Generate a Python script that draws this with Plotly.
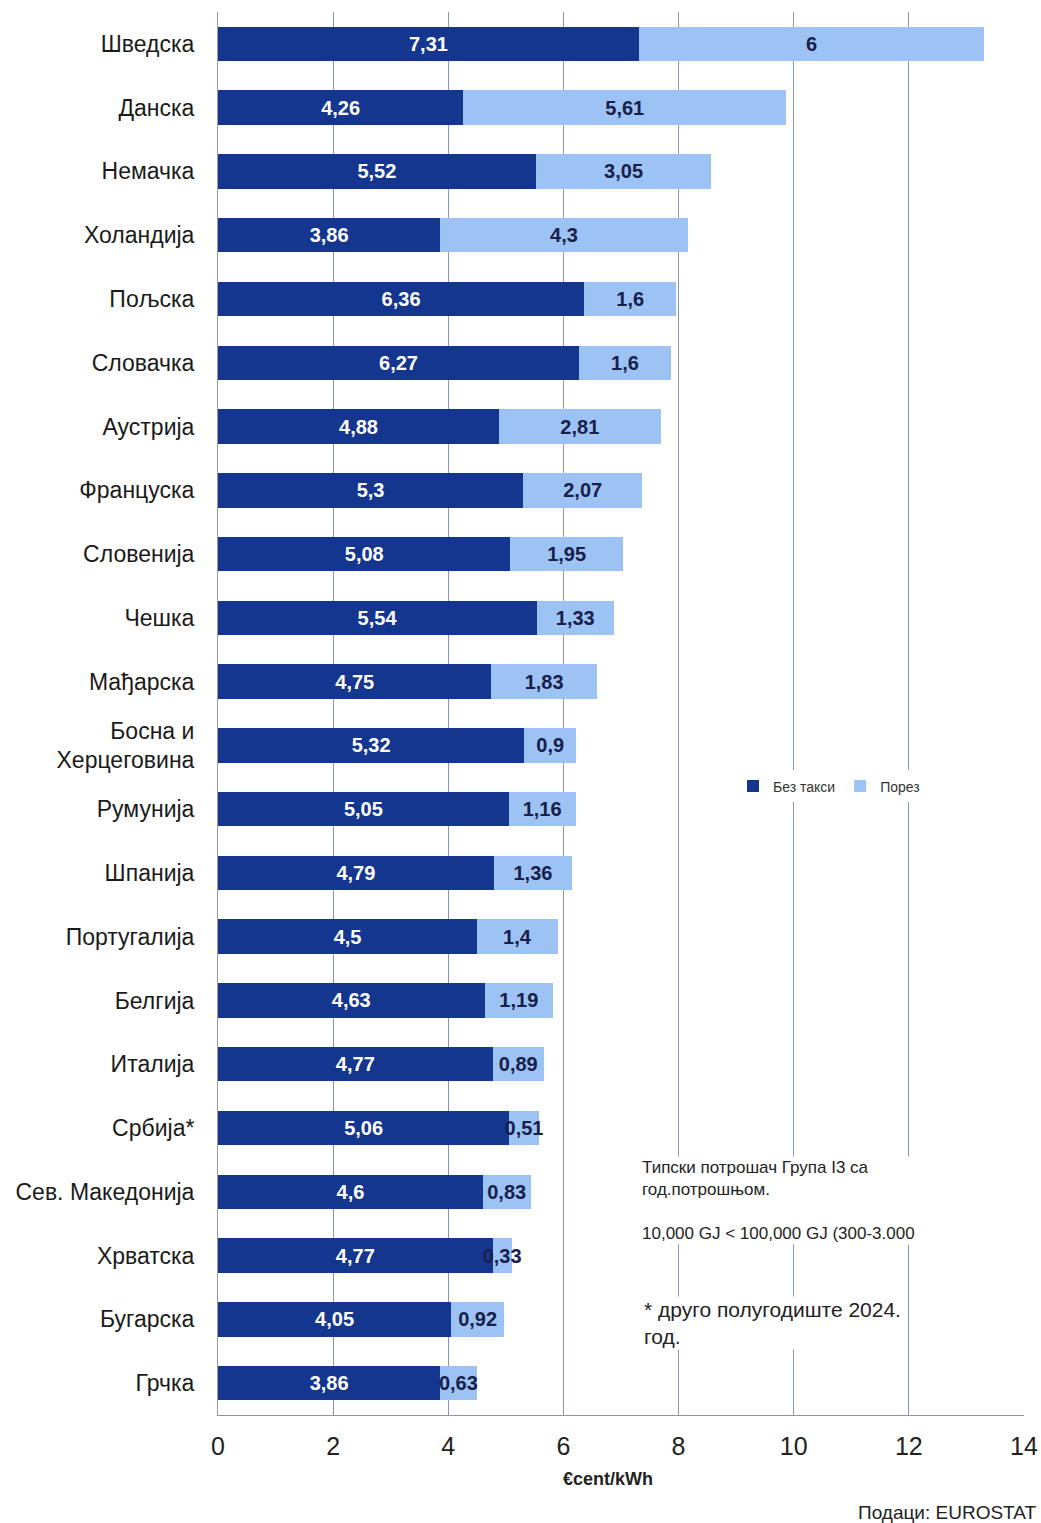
import plotly.graph_objects as go

countries = ["Шведска", "Данска", "Немачка", "Холандија", "Пољска", "Словачка", "Аустрија",
             "Француска", "Словенија", "Чешка", "Мађарска", "Босна и<br>Херцеговина", "Румунија",
             "Шпанија", "Португалија", "Белгија", "Италија", "Србија*", "Сев. Македонија",
             "Хрватска", "Бугарска", "Грчка"]
bez_taksi = [7.31, 4.26, 5.52, 3.86, 6.36, 6.27, 4.88, 5.3, 5.08, 5.54, 4.75, 5.32, 5.05,
             4.79, 4.5, 4.63, 4.77, 5.06, 4.6, 4.77, 4.05, 3.86]
porez = [6, 5.61, 3.05, 4.3, 1.6, 1.6, 2.81, 2.07, 1.95, 1.33, 1.83, 0.9, 1.16,
         1.36, 1.4, 1.19, 0.89, 0.51, 0.83, 0.33, 0.92, 0.63]
x_ticks = [0, 2, 4, 6, 8, 10, 12, 14]

def fmt(v):
    return ("%g" % v).replace(".", ",")

DARK = "#15368f"
LIGHT = "#9dc3f4"
FONT = "Liberation Sans, Arial, sans-serif"

fig = go.Figure()
fig.add_trace(go.Bar(
    y=countries, x=bez_taksi, orientation="h", name="Без такси",
    marker=dict(color=DARK, line=dict(width=0)),
    text=[fmt(v) for v in bez_taksi], textposition="inside", insidetextanchor="middle",
    constraintext="none", textangle=0,
    textfont=dict(color="white", size=20, family=FONT, weight="bold"),
))
fig.add_trace(go.Bar(
    y=countries, x=porez, orientation="h", name="Порез",
    marker=dict(color=LIGHT, line=dict(width=0)),
    text=[fmt(v) for v in porez], textposition="inside", insidetextanchor="middle",
    constraintext="none", textangle=0,
    textfont=dict(color="#17204a", size=20, family=FONT, weight="bold"),
))

fig.update_layout(
    barmode="stack",
    bargap=0.46,
    width=1041, height=1523,
    autosize=False,
    margin=dict(l=218, r=17, t=12, b=108),
    paper_bgcolor="white", plot_bgcolor="white",
    font=dict(family=FONT, color="#1a1a1a"),
    showlegend=True,
    legend=dict(orientation="h", x=(733 - 218) / 806, y=0.448, xanchor="left", yanchor="middle",
                font=dict(size=14, color="#333"), bgcolor="white",
                itemwidth=30, tracegroupgap=0, traceorder="normal"),
    xaxis=dict(range=[0, 14], tickvals=x_ticks, ticktext=[str(v) for v in x_ticks],
               showgrid=True, gridcolor="#8894bb", gridwidth=1, automargin=False,
               zeroline=False, showline=True, linecolor="#8894bb", linewidth=1,
               mirror=False, ticks="", ticklabelstandoff=9,
               tickfont=dict(size=25, color="#222")),
    yaxis=dict(categoryorder="array", categoryarray=countries, autorange="reversed",
               showline=True, linecolor="#9a9a9a", linewidth=1, ticks="", automargin=False,
               ticklabelstandoff=18, tickfont=dict(size=23, color="#1a1a1a"),
               showgrid=False),
)

def py(px):
    # convert pixel y (from top) to paper coordinate
    return 1 - (px - 12) / 1403

def pxx(px):
    return (px - 218) / 806

fig.add_annotation(xref="paper", yref="paper", x=pxx(608), y=py(1479), text="<b>€cent/kWh</b>",
                   showarrow=False, font=dict(size=18, color="#222"), yanchor="middle")
fig.add_annotation(xref="paper", yref="paper", x=pxx(1039), y=py(1513), text="Подаци: EUROSTAT",
                   showarrow=False, xanchor="right", yanchor="middle", font=dict(size=19, color="#222"))
fig.add_annotation(xref="paper", yref="paper", x=pxx(640), y=py(1156), xanchor="left", yanchor="top",
                   text="Типски потрошач Група I3 са<br>год.потрошњом.<br><br>10,000 GJ < 100,000 GJ (300-3.000",
                   align="left", showarrow=False, bgcolor="white",
                   font=dict(size=17, color="#222"))
fig.add_annotation(xref="paper", yref="paper", x=pxx(642), y=py(1296), xanchor="left", yanchor="top",
                   text="* друго полугодиште 2024.<br>год.",
                   align="left", showarrow=False, bgcolor="white",
                   font=dict(size=21, color="#222"))

fig.write_html("out.html", config={"displayModeBar": False, "responsive": False},
               post_script="document.body.style.margin='0';document.body.style.padding='0';"
                           "document.body.style.overflow='hidden';")
